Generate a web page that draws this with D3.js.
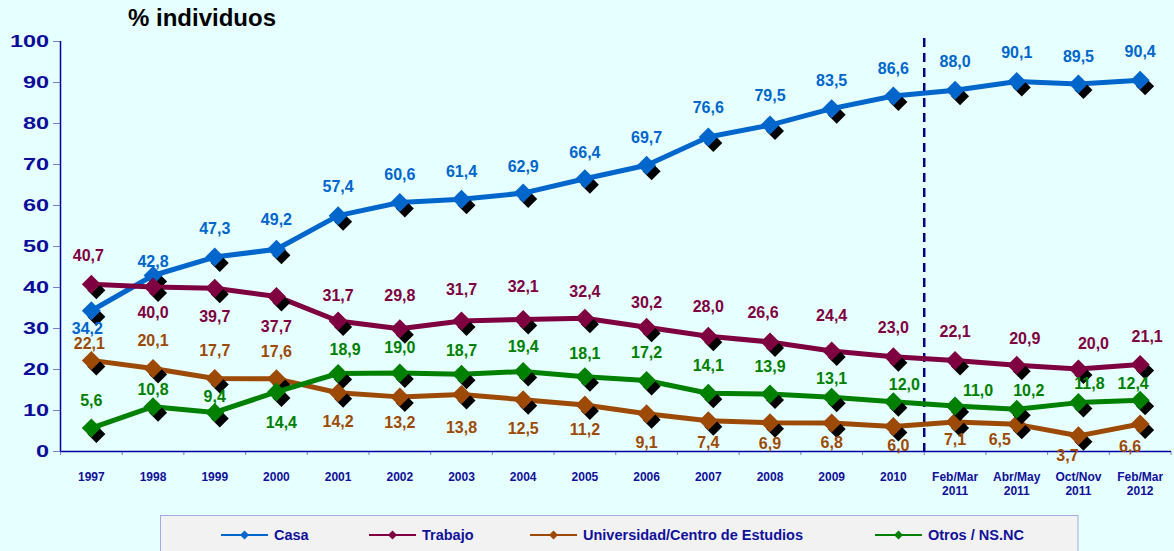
<!DOCTYPE html>
<html>
<head>
<meta charset="utf-8">
<script src="https://cdn.jsdelivr.net/npm/d3@7/dist/d3.min.js"></script>
<style>
  body { margin: 0; background: #e6ffff; }
  svg { display: block; font-family: "Liberation Sans", Arial, sans-serif; font-weight: bold; }
</style>
</head>
<body>
<div id="chart"></div>
<script>
var periods = ["1997", "1998", "1999", "2000", "2001", "2002", "2003", "2004", "2005",
               "2006", "2007", "2008", "2009", "2010",
               "Feb/Mar 2011", "Abr/May 2011", "Oct/Nov 2011", "Feb/Mar 2012"];
var seriesNames = ["Casa", "Trabajo", "Universidad/Centro de Estudios", "Otros / NS.NC"];
var casa        = [34.2, 42.8, 47.3, 49.2, 57.4, 60.6, 61.4, 62.9, 66.4, 69.7, 76.6, 79.5, 83.5, 86.6, 88.0, 90.1, 89.5, 90.4];
var trabajo     = [40.7, 40.0, 39.7, 37.7, 31.7, 29.8, 31.7, 32.1, 32.4, 30.2, 28.0, 26.6, 24.4, 23.0, 22.1, 20.9, 20.0, 21.1];
var universidad = [22.1, 20.1, 17.7, 17.6, 14.2, 13.2, 13.8, 12.5, 11.2, 9.1, 7.4, 6.9, 6.8, 6.0, 7.1, 6.5, 3.7, 6.6];
var otros       = [5.6, 10.8, 9.4, 14.4, 18.9, 19.0, 18.7, 19.4, 18.1, 17.2, 14.1, 13.9, 13.1, 12.0, 11.0, 10.2, 11.8, 12.4];
var yTicks = [0, 10, 20, 30, 40, 50, 60, 70, 80, 90, 100];
var splitAt = "Feb/Mar 2011"; // dashed separator before this period

var colors = ["#0066cc", "#7f0040", "#9c4a06", "#008000"];

// where each value label sits relative to its marker (center offset, px)
var labelDy = [
  [17, -14, -29, -30, -29, -28, -28, -27, -27, -28, -30, -30, -28, -28, -29, -29, -28, -29],
  [-29, 25, 28, 30, -26, -34, -32, -33, -27, -25, -30, -30, -36, -30, -29, -27, -26, -28],
  [-17, -28, -28, -28, 28, 25, 33, 28, 24, 29, 22, 20, 19, 19, 17, 15, 19, 22],
  [-28, -18, -16, 30, -24, -26, -24, -25, -24, -28, -28, -28, -19, -18, -16, -19, -19, -17]
];
var labelDx = [
  {0: -4},
  {0: -3, 11: -7, 15: 8, 16: 15, 17: 7},
  {0: -2, 13: 5, 15: -17, 16: -11, 17: -10},
  {3: 5, 4: 7, 13: 11, 14: 23, 15: 12, 16: 11, 17: -7}
];

var W = 1174, H = 551;
var svg = d3.select("#chart").append("svg")
    .attr("width", W)
    .attr("height", H);

svg.append("rect").attr("width", W).attr("height", H).attr("fill", "#e6ffff");

var x = d3.scaleBand().domain(periods).range([60.5, 1171]);
var y = d3.scaleLinear().domain([0, 100]).range([451, 41]);
var fmt = d3.formatLocale({decimal: ",", thousands: ".", grouping: [3], currency: ["", ""]}).format(".1f");

// title
svg.append("text")
  .attr("x", 128).attr("y", 26)
  .attr("font-size", 24).attr("fill", "#000")
  .text("% individuos");

// y axis
var gy = svg.append("g");
gy.selectAll("line.tick").data(yTicks).enter().append("line")
  .attr("x1", 53).attr("x2", 60.5)
  .attr("y1", function(d){ return y(d) + 0.5; })
  .attr("y2", function(d){ return y(d) + 0.5; })
  .attr("stroke", "#7b7bd0").attr("stroke-width", 1);
gy.selectAll("text").data(yTicks).enter().append("text")
  .attr("text-anchor", "end")
  .attr("font-size", 17)
  .attr("fill", "#0c0c9a")
  .attr("transform", function(d){ return "translate(49," + (y(d) + 6) + ") scale(1.38,1)"; })
  .text(function(d){ return d; });
gy.append("line")
  .attr("x1", 60.5).attr("x2", 60.5).attr("y1", y(100)).attr("y2", y(0))
  .attr("stroke", "#0000a0").attr("stroke-width", 1.5);

// x axis
var gx = svg.append("g");
var bounds = periods.map(function(p){ return x(p); }).concat([x.range()[1]]);
gx.selectAll("line").data(bounds).enter().append("line")
  .attr("x1", function(d){ return d; }).attr("x2", function(d){ return d; })
  .attr("y1", 451).attr("y2", 455)
  .attr("stroke", "#7b7bd0").attr("stroke-width", 1);
gx.append("line")
  .attr("x1", x.range()[0]).attr("x2", x.range()[1]).attr("y1", 451.5).attr("y2", 451.5)
  .attr("stroke", "#0000a0").attr("stroke-width", 1.5);
var xl = gx.selectAll("text").data(periods).enter().append("text")
  .attr("text-anchor", "middle")
  .attr("font-size", 12)
  .attr("fill", "#10109a")
  .attr("x", function(d){ return x(d) + x.bandwidth() / 2; })
  .attr("y", 481);
xl.each(function(d){
  var parts = d.split(" ");
  var t = d3.select(this);
  parts.forEach(function(s, i){
    t.append("tspan")
      .attr("x", x(d) + x.bandwidth() / 2)
      .attr("dy", i === 0 ? 0 : 13.5)
      .text(s);
  });
});

// dashed separator
svg.append("line")
  .attr("x1", x(splitAt)).attr("x2", x(splitAt))
  .attr("y1", 38).attr("y2", 451)
  .attr("stroke", "#000080").attr("stroke-width", 2.5)
  .attr("stroke-dasharray", "9,6");

var series = [casa, trabajo, universidad, otros].map(function(vals, i){
  return {name: seriesNames[i], color: colors[i], values: vals, k: i};
});

var cx = function(i){ return x(periods[i]) + x.bandwidth() / 2; };
var line = d3.line()
  .x(function(d, i){ return cx(i); })
  .y(function(d){ return y(d); });

function diamond(r) {
  return "M0," + (-r) + "L" + r + ",0L0," + r + "L" + (-r) + ",0Z";
}

series.forEach(function(s){
  var g = svg.append("g");
  g.append("path")
    .attr("d", line(s.values))
    .attr("fill", "none")
    .attr("stroke", s.color)
    .attr("stroke-width", 5)
    .attr("stroke-linejoin", "round");
  g.selectAll("path.sh").data(s.values).enter().append("path")
    .attr("class", "sh")
    .attr("d", diamond(9))
    .attr("fill", "#000")
    .attr("transform", function(d, i){ return "translate(" + (cx(i) + 5) + "," + (y(d) + 6) + ")"; });
  g.selectAll("path.mk").data(s.values).enter().append("path")
    .attr("class", "mk")
    .attr("d", diamond(9.5))
    .attr("fill", s.color)
    .attr("transform", function(d, i){ return "translate(" + cx(i) + "," + y(d) + ")"; });
});

// value labels on top
series.forEach(function(s){
  svg.append("g").selectAll("text").data(s.values).enter().append("text")
    .attr("text-anchor", "middle")
    .attr("font-size", 16)
    .attr("fill", s.color)
    .attr("x", function(d, i){ return cx(i) + (labelDx[s.k][i] || 0); })
    .attr("y", function(d, i){ return y(d) + labelDy[s.k][i] + 5.8; })
    .text(function(d){ return fmt(d); });
});

// legend
var legend = svg.append("g");
legend.append("rect")
  .attr("x", 160.5).attr("y", 515.5).attr("width", 917.5).attr("height", 60)
  .attr("fill", "#f2f2f2").attr("stroke", "#a8a8e0").attr("stroke-width", 1);
var legendX = [221, 369, 530, 875];
series.forEach(function(s, i){
  var lg = legend.append("g").attr("transform", "translate(" + legendX[i] + ",535)");
  lg.append("line").attr("x1", 0).attr("x2", 47).attr("y1", 0).attr("y2", 0)
    .attr("stroke", s.color).attr("stroke-width", 2);
  lg.append("path").attr("d", diamond(4.5)).attr("fill", s.color)
    .attr("transform", "translate(23.5,0)");
  lg.append("text").attr("x", 53).attr("y", 5)
    .attr("font-size", 14.5).attr("fill", "#10109a")
    .text(s.name);
});
</script>
</body>
</html>
